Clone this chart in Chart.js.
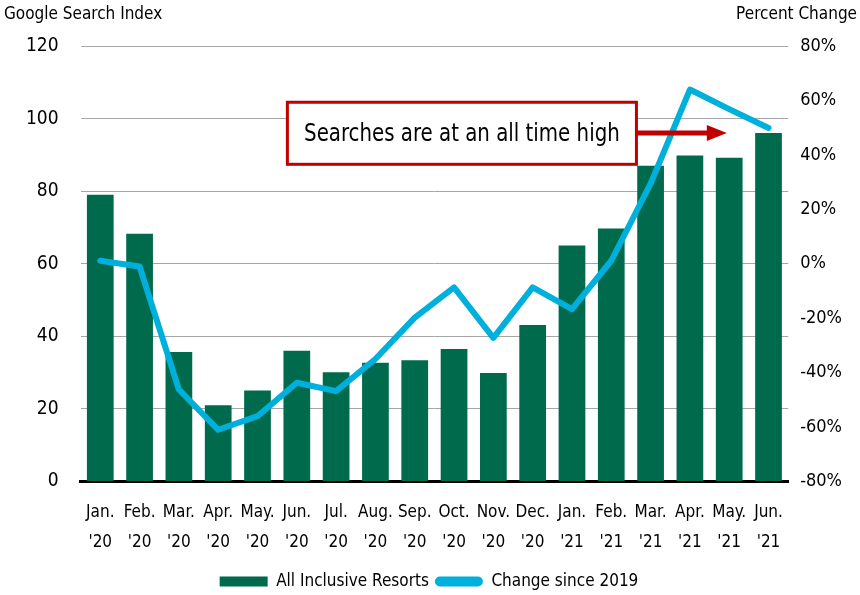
<!DOCTYPE html>
<html>
<head>
<meta charset="utf-8">
<script src="https://cdn.jsdelivr.net/npm/chart.js@4.4.1/dist/chart.umd.min.js"></script>
<style>
  html, body { margin: 0; padding: 0; background: #fff; }
  #wrap { width: 860px; height: 595px; }
</style>
</head>
<body>
<div id="wrap"><canvas id="myChart" width="860" height="595"></canvas></div>
<script>
var months = [["Jan.", "'20"], ["Feb.", "'20"], ["Mar.", "'20"], ["Apr.", "'20"], ["May.", "'20"], ["Jun.", "'20"],
              ["Jul.", "'20"], ["Aug.", "'20"], ["Sep.", "'20"], ["Oct.", "'20"], ["Nov.", "'20"], ["Dec.", "'20"],
              ["Jan.", "'21"], ["Feb.", "'21"], ["Mar.", "'21"], ["Apr.", "'21"], ["May.", "'21"], ["Jun.", "'21"]];
var searchIndex = [79, 68.3, 35.7, 21, 25.1, 36, 30.1, 32.7, 33.4, 36.5, 29.9, 43.1, 65, 69.7, 87, 89.8, 89.2, 96];
var changePct = [1.1, -1, -46.2, -61, -56, -43.7, -46.8, -35, -19.8, -8.7, -27.2, -8.7, -16.7, 1.1, 29.4, 64, 56.8, 49.9];

var FONT = "'DejaVu Sans Condensed', 'Liberation Sans Narrow', sans-serif";
var green = '#006B4C';
var blue = '#00B0DC';
var red = '#C00000';

// titles + the red callout box with arrow
var extras = {
    id: 'extras',
    afterDatasetsDraw: function(chart) {
        var ctx = chart.ctx;
        var x = chart.scales.x, y = chart.scales.y;
        ctx.save();
        ctx.fillStyle = '#000';
        ctx.font = '17px ' + FONT;
        ctx.textBaseline = 'middle';
        ctx.textAlign = 'left';
        ctx.fillText('Google Search Index', 4, 15);
        ctx.textAlign = 'right';
        ctx.fillText('Percent Change', 857, 15);

        var left = x.getPixelForValue(4.76), right = x.getPixelForValue(13.64);
        var top = y.getPixelForValue(104.5), bottom = y.getPixelForValue(87.4);
        var mid = y.getPixelForValue(96);
        var tip = x.getPixelForValue(15.94);

        // arrow
        ctx.strokeStyle = red;
        ctx.lineWidth = 5;
        ctx.beginPath();
        ctx.moveTo(right, mid);
        ctx.lineTo(tip - 14, mid);
        ctx.stroke();
        ctx.fillStyle = red;
        ctx.beginPath();
        ctx.moveTo(tip, mid);
        ctx.lineTo(tip - 20, mid - 8);
        ctx.lineTo(tip - 20, mid + 8);
        ctx.closePath();
        ctx.fill();

        // box
        ctx.fillStyle = '#fff';
        ctx.fillRect(left, top, right - left, bottom - top);
        ctx.lineWidth = 3;
        ctx.strokeStyle = red;
        ctx.strokeRect(left, top, right - left, bottom - top);
        ctx.fillStyle = '#000';
        ctx.font = '25px ' + FONT;
        ctx.textAlign = 'center';
        ctx.translate((left + right) / 2, (top + bottom) / 2 + 1);
        ctx.scale(0.88, 1);
        ctx.fillText('Searches are at an all time high', 0, 0);
        ctx.restore();
    }
};

new Chart(document.getElementById('myChart'), {
    type: 'bar',
    data: {
        labels: months,
        datasets: [{
            type: 'line',
            label: 'Change since 2019',
            data: changePct,
            yAxisID: 'y1',
            borderColor: blue,
            backgroundColor: blue,
            borderWidth: 6,
            borderCapStyle: 'round',
            borderJoinStyle: 'round',
            tension: 0,
            pointRadius: 0,
            fill: false
        }, {
            label: 'All Inclusive Resorts',
            data: searchIndex,
            yAxisID: 'y',
            backgroundColor: green,
            barPercentage: 0.68,
            categoryPercentage: 1
        }]
    },
    options: {
        responsive: false,
        animation: false,
        layout: { padding: { top: 46, left: 4, right: 6, bottom: -5 } },
        plugins: {
            tooltip: { enabled: false },
            legend: {
                position: 'bottom',
                labels: {
                    color: '#000',
                    font: { family: FONT, size: 17 },
                    boxWidth: 48,
                    boxHeight: 10,
                    padding: 6,
                    generateLabels: function() {
                        return [
                            { text: 'All Inclusive Resorts', fillStyle: green, strokeStyle: green, lineWidth: 0, datasetIndex: 1 },
                            { text: 'Change since 2019', fillStyle: blue, strokeStyle: blue, lineWidth: 0, borderRadius: 5, datasetIndex: 0 }
                        ];
                    }
                }
            }
        },
        scales: {
            x: {
                grid: { display: false, drawTicks: false },
                border: { display: true, color: '#000', width: 3 },
                ticks: {
                    color: '#000',
                    maxRotation: 0,
                    autoSkip: false,
                    padding: 16,
                    font: { family: FONT, size: 17, lineHeight: 1.75 }
                },
                afterFit: function(scale) { scale.height -= 6; }
            },
            y: {
                position: 'left',
                min: 0,
                max: 120,
                grid: { color: '#A6A6A6', drawTicks: false },
                border: { display: false },
                ticks: {
                    stepSize: 20,
                    color: '#000',
                    padding: 22,
                    font: { family: FONT, size: 19 }
                }
            },
            y1: {
                position: 'right',
                min: -80,
                max: 80,
                grid: { display: false, drawTicks: false },
                border: { display: false },
                ticks: {
                    stepSize: 20,
                    color: '#000',
                    padding: 12,
                    font: { family: FONT, size: 18 },
                    callback: function(v) { return v + '%'; }
                }
            }
        }
    },
    plugins: [extras]
});
</script>
</body>
</html>
